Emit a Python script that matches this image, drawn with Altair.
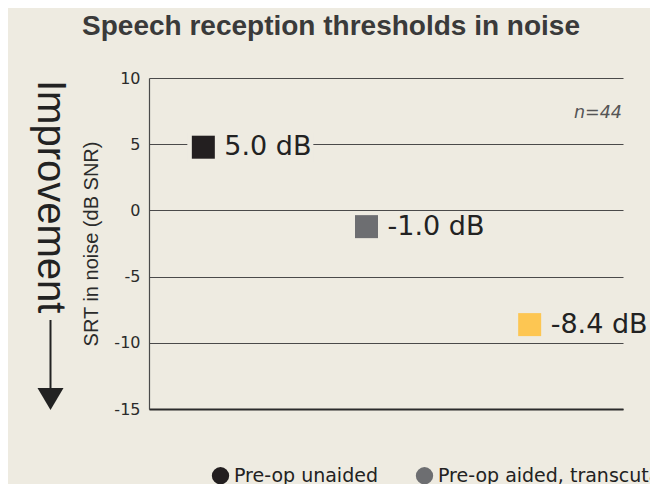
import altair as alt
import pandas as pd

# ---- data ----
groups = ["Pre-op unaided", "Pre-op aided, transcutaneous", "Post-op aided, active implant"]
positions = [1, 2, 3]
srt_values = [5.0, -1.0, -8.4]
value_labels = ["5.0 dB", "-1.0 dB", "-8.4 dB"]
colors = ["#231f20", "#6d6e71", "#fdc652"]
y_ticks = [-15, -10, -5, 0, 5, 10]
n_label = "n=44"
y_title = "SRT in noise (dB SNR)"
chart_title = "Speech reception thresholds in noise"
side_label = "Improvement"

BG = "#eeebe1"
W, H = 474, 331

df = pd.DataFrame({"group": groups, "pos": positions, "srt": srt_values, "label": value_labels})

xscale = alt.Scale(domain=[0.667, 3.572], nice=False, zero=False)
yscale = alt.Scale(domain=[-15, 10], nice=False, zero=False)

x_enc = alt.X("pos:Q", scale=xscale,
              axis=alt.Axis(labels=False, ticks=False, grid=False, title=None,
                            domain=True, domainColor="#2b2b2b", domainWidth=2))
y_enc = alt.Y("srt:Q", scale=yscale,
              axis=alt.Axis(values=y_ticks, ticks=False, grid=True, gridColor="#4a4a4a",
                            gridWidth=1.1, domainColor="#4a4a4a", domainWidth=1.2,
                            labelExpr="'' + datum.value",
                            labelFont="DejaVu Sans", labelFontSize=16, labelColor="#2b2b2b",
                            labelPadding=9, title=y_title, titleFont="Liberation Sans",
                            titleFontSize=20, titleFontWeight="normal", titleColor="#2b2b2b",
                            titlePadding=12))

base = alt.Chart(df).encode(x=x_enc, y=y_enc)

knockout = base.mark_rect(width=126, height=30, xOffset=47, yOffset=3, color=BG)

squares = base.mark_square(size=529, opacity=1, yOffset=3).encode(
    color=alt.Color("group:N", sort=groups,
                    scale=alt.Scale(domain=groups, range=colors),
                    legend=alt.Legend(orient="none", legendX=62, legendY=388,
                                      direction="horizontal", title=None,
                                      symbolType="circle", symbolSize=300,
                                      symbolStrokeWidth=0, labelFont="DejaVu Sans",
                                      labelFontSize=19, labelColor="#222222",
                                      labelOffset=4, columnPadding=37, labelLimit=500))
)

texts = base.mark_text(align="left", baseline="middle", dx=21, yOffset=3,
                       font="DejaVu Sans", fontSize=27, color="#222222").encode(text="label:N")

one = pd.DataFrame({"t": [side_label]})
improve = alt.Chart(one).mark_text(angle=90, align="left", baseline="alphabetic",
                                   font="Liberation Sans", fontSize=40, fontWeight=300,
                                   color="#222222").encode(
    x=alt.value(-111), y=alt.value(2), text="t:N")

arrow_line = alt.Chart(one).mark_rule(color="#222222", strokeWidth=2).encode(
    x=alt.value(-98.5), y=alt.value(242), y2=alt.value(314))
arrow_head = alt.Chart(one).mark_point(shape="M-1,-0.85L1,-0.85L0,0.85Z", size=676,
                                       filled=True, opacity=1, color="#222222").encode(
    x=alt.value(-98.5), y=alt.value(321))

nlab = alt.Chart(pd.DataFrame({"t": [n_label]})).mark_text(
    align="right", baseline="middle", font="DejaVu Sans", fontSize=17.5,
    fontStyle="italic", color="#555555").encode(x=alt.value(473), y=alt.value(35), text="t:N")

chart = alt.layer(knockout, squares, texts, improve, arrow_line, arrow_head, nlab).properties(
    width=W, height=H,
    title=alt.Title(chart_title, font="Liberation Sans", fontSize=28, fontWeight="bold",
                    color="#3a3a3a", anchor="middle", frame="group", dx=-55, offset=29),
    autosize=alt.AutoSizeParams(type="none"),
    padding={"left": 141, "top": 70, "right": 27, "bottom": 83},
    background=BG,
).configure_view(stroke=None)

chart.save("out.html", embed_options={"renderer": "svg", "actions": False})
